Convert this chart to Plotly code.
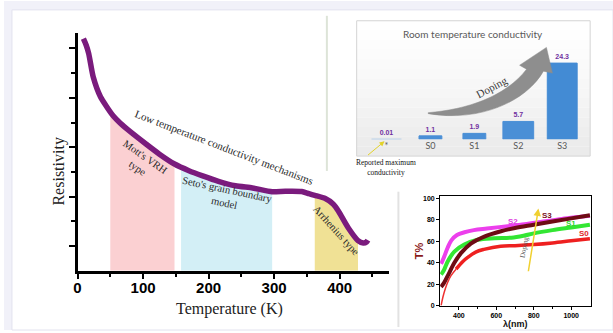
import numpy as np
import plotly.graph_objects as go

W, H = 613, 333

# ---------------- Left panel: resistivity vs temperature ----------------
temperature_K = [9, 13, 17, 24, 35, 44, 55, 65, 80, 105, 125, 148, 170, 191, 215, 241, 267,
                 297, 317, 342, 353, 362, 378, 390, 398, 413, 428, 436, 441, 443]
resistivity = [9.4, 9.15, 8.8, 7.84, 7.04, 6.66, 6.25, 5.98, 5.64, 5.12, 4.72, 4.32, 4.05, 3.84,
               3.62, 3.44, 3.35, 3.2, 3.22, 3.21, 3.12, 3.05, 2.92, 2.7, 2.42, 1.74, 1.22, 1.12,
               1.16, 1.24]
temp_ticks = [0, 100, 200, 300, 400]

region_names = ["Mott's VRH<br>type", "Seto's grain boundary<br>model", "Arrhenius type"]
region_start = [50, 158, 362]
region_end = [148, 297, 428]
region_colors = ["#fbd0d2", "#d3eff6", "#f0e195"]

# ---------------- Top-right panel: room temperature conductivity ----------------
sample_labels = ["*", "S0", "S1", "S2", "S3"]
conductivity = [0.01, 1.1, 1.9, 5.7, 24.3]

# ---------------- Bottom-right panel: transmittance ----------------
s0_wl = [305, 315, 328, 341, 358, 385, 420, 447, 490, 534, 623, 700, 800, 900, 1000, 1100]
s0_T = [0, 8, 16, 22, 28, 34, 41, 45, 50, 52.5, 55.5, 56, 57, 58.5, 60.5, 62.5]
s1_wl = [305, 320, 341, 376, 429, 500, 589, 680, 750, 800, 900, 1000, 1100]
s1_T = [29, 33, 41.5, 50.5, 57, 61.5, 63, 63.5, 65.5, 67.5, 70.5, 73, 75.5]
s2_wl = [305, 320, 340, 360, 390, 430, 480, 550, 650, 750, 850, 950, 1050, 1100]
s2_T = [39, 45, 54, 61, 66, 68.5, 70.5, 72, 74, 76, 78.5, 81, 83, 84]
s3_wl = [305, 320, 341, 376, 411, 464, 536, 625, 700, 800, 900, 1000, 1100]
s3_T = [17.5, 21, 28, 40, 49, 58, 64.5, 69.5, 72.5, 75.5, 78.5, 81.5, 84.5]
wl_ticks = [400, 600, 800, 1000]
t_ticks = [0, 20, 40, 60, 80, 100]


def px(x):
    return x / W


def py(y):
    return 1 - y / H


SERIF = "Liberation Serif"
SANS = "Liberation Sans"

fig = go.Figure()

# shaded regions (under the curve)
for name, a, b, c in zip(region_names, region_start, region_end, region_colors):
    xs = [a] + [t for t in temperature_K if a < t < b] + [b]
    ys = list(np.interp(xs, temperature_K, resistivity))
    fig.add_trace(go.Scatter(x=xs, y=ys, mode="lines", line=dict(width=0, color=c),
                             fill="tozeroy", fillcolor=c, hoverinfo="skip",
                             xaxis="x", yaxis="y"))

fig.add_trace(go.Scatter(x=temperature_K, y=resistivity, mode="lines",
                         line=dict(color="#7a1b7d", width=5.5, shape="spline", smoothing=0.6),
                         xaxis="x", yaxis="y"))

# bars
bar_colors = ["#a9c8e8", "#4a8fd6", "#4a8fd6", "#4a8fd6", "#438bd4"]
fig.add_trace(go.Bar(x=sample_labels, y=conductivity, width=[0.68, 0.52, 0.52, 0.7, 0.68],
                     marker=dict(color=bar_colors, line=dict(color=bar_colors, width=1)),
                     text=[f"{v:g}" for v in conductivity], textposition="outside",
                     textfont=dict(family=SANS, size=7, color="#7030a0", weight="bold"),
                     cliponaxis=False, xaxis="x2", yaxis="y2"))

# transmittance curves
fig.add_trace(go.Scatter(x=s2_wl, y=s2_T, mode="lines", line=dict(color="#ec3fec", width=4, shape="spline"),
                         xaxis="x3", yaxis="y3"))
fig.add_trace(go.Scatter(x=s1_wl, y=s1_T, mode="lines", line=dict(color="#33e633", width=4, shape="spline"),
                         xaxis="x3", yaxis="y3"))
fig.add_trace(go.Scatter(x=s0_wl[:6], y=s0_T[:6], mode="lines", line=dict(color="#ee3030", width=1.5, shape="spline"),
                         xaxis="x3", yaxis="y3"))
fig.add_trace(go.Scatter(x=s0_wl[5:], y=s0_T[5:], mode="lines", line=dict(color="#ee2020", width=3.5, shape="spline"),
                         xaxis="x3", yaxis="y3"))
fig.add_trace(go.Scatter(x=s3_wl, y=s3_T, mode="lines", line=dict(color="#6e0c14", width=4, shape="spline"),
                         xaxis="x3", yaxis="y3"))

# ---------------- shapes ----------------
shapes = []
shapes.append(dict(type="rect", xref="paper", yref="paper", x0=0, x1=1, y0=0, y1=1,
                   fillcolor="#f1f1f9", line=dict(width=0), layer="below"))
shapes.append(dict(type="rect", xref="paper", yref="paper", x0=px(8), x1=1, y0=0, y1=py(9),
                   fillcolor="white", line=dict(color="#e2e2ef", width=1), layer="below"))
# bar panel gradient background
p_x0, p_x1, p_y0, p_y1 = 355, 590, 20, 157
nb = 14
for i in range(nb):
    g = int(255 - 20 * (i / (nb - 1)) ** 1.3)
    shapes.append(dict(type="rect", xref="paper", yref="paper", x0=px(p_x0), x1=px(p_x1),
                       y0=py(p_y0 + (p_y1 - p_y0) * (i + 1) / nb),
                       y1=py(p_y0 + (p_y1 - p_y0) * i / nb),
                       fillcolor=f"rgb({g},{g},{g})", line=dict(width=0), layer="below"))
shapes.append(dict(type="rect", xref="paper", yref="paper", x0=px(p_x0), x1=px(p_x1),
                   y0=py(p_y1), y1=py(p_y0), line=dict(color="#d4d4d4", width=1), layer="below"))
# divider lines
shapes.append(dict(type="line", xref="paper", yref="paper", x0=px(325), x1=px(325), y0=py(15), y1=py(172),
                   line=dict(color="#dde4d8", width=2), layer="below"))
shapes.append(dict(type="line", xref="paper", yref="paper", x0=px(397), x1=px(397), y0=py(193), y1=py(330),
                   line=dict(color="#e2e2e2", width=2), layer="below"))


# curved doping arrow (decoration)
def pth(cmds):
    out = []
    for c in cmds:
        if isinstance(c, str):
            out.append(c)
        else:
            out.append(f"{px(c[0]):.5f},{py(c[1]):.5f}")
    return " ".join(out)


arrow = pth(["M", (427, 113), "C", (465, 110), (505, 97), (526, 69), "L", (519, 65), "L", (546, 47),
             "L", (552, 73), "L", (543, 71), "C", (526, 101), (480, 123), (427, 114), "Z"])
shapes.append(dict(type="path", xref="paper", yref="paper", path=arrow,
                   fillcolor="#8e8e8e", line=dict(color="#8a8a8a", width=0.5), layer="above"))

# ---------------- annotations ----------------
C = dict(xanchor="center", yanchor="middle", showarrow=False)
ann = []
ann.append(dict(text="Low temperature conductivity mechanisms", x=223, y=5.0, xref="x", yref="y",
                textangle=21, font=dict(family=SERIF, size=11, color="#2a2a2a"), **C))
ann.append(dict(text=region_names[0], x=97, y=4.4, xref="x", yref="y", textangle=35,
                font=dict(family=SERIF, size=10.5, color="#2a2a2a"), **C))
ann.append(dict(text=region_names[1], x=226, y=3.0, xref="x", yref="y", textangle=12,
                font=dict(family=SERIF, size=10.5, color="#2a2a2a"), **C))
ann.append(dict(text=region_names[2], x=395, y=1.64, xref="x", yref="y", textangle=48,
                font=dict(family=SERIF, size=10.5, color="#2a2a2a"), **C))
ann.append(dict(text="Temperature (K)", x=px(227), y=py(312), xref="paper", yref="paper",
                font=dict(family=SERIF, size=16, color="#222"), **C))
ann.append(dict(text="Resistivity", x=px(55), y=py(173), xref="paper", yref="paper",
                textangle=-90, font=dict(family=SERIF, size=16, color="#222"), **C))

ann.append(dict(text="Room temperature conductivity", x=px(472), y=py(33), xref="paper", yref="paper",
                font=dict(family="Lato", size=10, color="#595959"), **C))
ann.append(dict(text="Doping", x=px(491), y=py(87), xref="paper", yref="paper",
                textangle=-28, font=dict(family=SERIF, size=11, color="#3a3a3a"), **C))
ann.append(dict(text="Reported maximum<br>conductivity", x=px(385), y=py(169), xref="paper", yref="paper",
                font=dict(family=SERIF, size=7.5, color="#111"), **C))
ann.append(dict(text="", x=px(383), y=py(142), xref="paper", yref="paper", ax=-18, ay=15,
                showarrow=True, arrowhead=2, arrowsize=1, arrowwidth=1, arrowcolor="#e2d22a"))

for lab, xx, yy, col in [("S3", 873, 84.6, "#7a1020"), ("S2", 687, 79, "#e040e0"),
                         ("S1", 998, 77, "#2fd62f"), ("S0", 1068, 67.7, "#e02828")]:
    ann.append(dict(text=f"<b>{lab}</b>", x=xx, y=yy, xref="x3", yref="y3",
                    font=dict(family=SANS, size=8, color=col), **C))
ann.append(dict(text="", x=825, y=90.7, xref="x3", yref="y3", ax=770, ay=30.7, axref="x3", ayref="y3",
                showarrow=True, arrowhead=2, arrowsize=1, arrowwidth=1.5, arrowcolor="#f0d030"))
ann.append(dict(text="Doping", x=749, y=55, xref="x3", yref="y3", textangle=-80,
                font=dict(family=SERIF, size=7, color="#555"), **C))
ann.append(dict(text="<b>T%</b>", x=px(418), y=py(253), xref="paper", yref="paper",
                textangle=-90, font=dict(family=SANS, size=11, color="#8b1a1a"), **C))
ann.append(dict(text="<b>λ(nm)</b>", x=px(515), y=py(327), xref="paper", yref="paper",
                font=dict(family=SANS, size=9, color="#111"), **C))

fig.update_layout(
    width=W, height=H, margin=dict(l=0, r=0, t=0, b=0),
    paper_bgcolor="white", plot_bgcolor="rgba(0,0,0,0)", showlegend=False,
    shapes=shapes, annotations=ann,
    xaxis=dict(domain=[px(74), px(388)], range=[0, 476], anchor="y",
               showline=True, linecolor="black", linewidth=3, showgrid=False, zeroline=False,
               tickvals=temp_ticks, ticks="outside", ticklen=5, tickwidth=2, tickcolor="black",
               ticklabelstandoff=-4,
               minor=dict(dtick=50, tick0=0, ticks="outside", ticklen=3, tickwidth=2, tickcolor="black"),
               tickfont=dict(family=SANS, size=15, color="black", weight="bold")),
    yaxis=dict(domain=[py(273), py(32)], range=[0, 9.64], anchor="x",
               showline=True, linecolor="black", linewidth=3, showgrid=False, zeroline=False,
               tickvals=[1, 3, 5, 7, 9], ticks="outside", ticklen=6, tickwidth=2, tickcolor="black",
               showticklabels=False,
               minor=dict(tickvals=[2, 4, 6, 8], ticks="outside", ticklen=4, tickwidth=2, tickcolor="black")),
    xaxis2=dict(domain=[px(362.9), px(584)], range=[-0.5, 4.5], anchor="y2", showgrid=False,
                zeroline=False, showline=False, ticks="",
                tickfont=dict(family="Lato", size=9, color="#595959")),
    yaxis2=dict(domain=[py(140), py(40)], range=[0, 31.5], anchor="x2", visible=False),
    xaxis3=dict(domain=[px(439), px(590.7)], range=[300, 1105], anchor="y3",
                showline=True, mirror=True, linecolor="black", linewidth=1, showgrid=False, zeroline=False,
                tickvals=wl_ticks, ticks="outside", ticklen=3, tickcolor="black",
                minor=dict(tickvals=[500, 700, 900], ticks="outside", ticklen=2, tickcolor="black"),
                tickfont=dict(family=SANS, size=7, color="black", weight="bold")),
    yaxis3=dict(domain=[py(308.3), py(197.7)], range=[0, 102.1], anchor="x3",
                showline=True, mirror=True, linecolor="black", linewidth=1, showgrid=False, zeroline=False,
                tickvals=t_ticks, ticks="outside", ticklen=3, tickcolor="black",
                tickfont=dict(family=SANS, size=7, color="black", weight="bold")),
)

fig.write_html("out.html", config={"displayModeBar": False},
               post_script="document.body.style.margin='0';document.body.style.overflow='hidden';")
